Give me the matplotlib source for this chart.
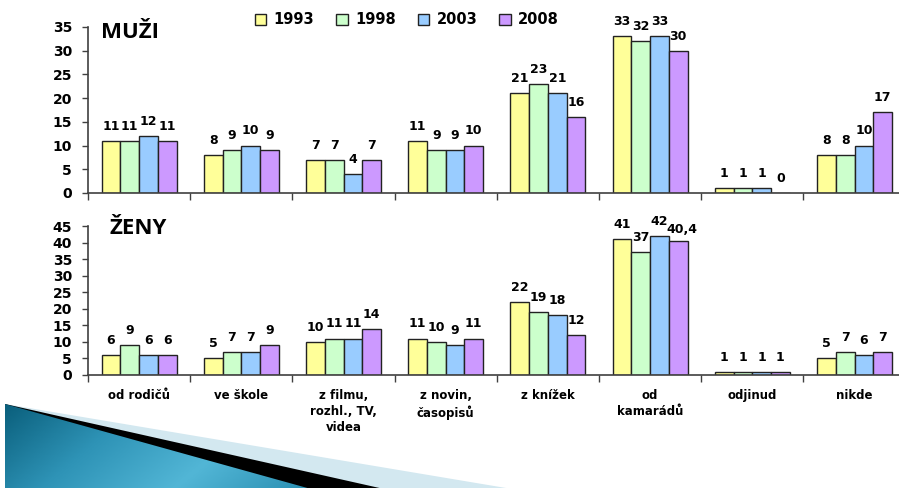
import matplotlib
matplotlib.use("Agg")
import matplotlib.pyplot as plt
from matplotlib.patches import Patch, Polygon
from matplotlib.colors import LinearSegmentedColormap
import numpy as np

plt.rcParams['font.family'] = ['DejaVu Sans']
plt.rcParams['font.weight'] = 'bold'

categories = ["od rodičů", "ve škole", "z filmu,\nrozhl., TV,\nvidea", "z novin,\nčasopisů",
              "z knížek", "od\nkamarádů", "odjinud", "nikde"]
years = ["1993", "1998", "2003", "2008"]
colors = ["#FFFF99", "#CCFFCC", "#99CCFF", "#CC99FF"]

muzi_1993 = [11, 8, 7, 11, 21, 33, 1, 8]
muzi_1998 = [11, 9, 7, 9, 23, 32, 1, 8]
muzi_2003 = [12, 10, 4, 9, 21, 33, 1, 10]
muzi_2008 = [11, 9, 7, 10, 16, 30, 0, 17]

zeny_1993 = [6, 5, 10, 11, 22, 41, 1, 5]
zeny_1998 = [9, 7, 11, 10, 19, 37, 1, 7]
zeny_2003 = [6, 7, 11, 9, 18, 42, 1, 6]
zeny_2008 = [6, 9, 14, 11, 12, 40.4, 1, 7]

W, H = 899, 488
fig = plt.figure(figsize=(W / 100, H / 100), dpi=100)


def px_axes(left, top, bottom, right):
    return fig.add_axes([left / W, 1 - bottom / H, (right - left) / W, (bottom - top) / H])


def fmt(v):
    if float(v).is_integer():
        return str(int(v))
    return str(v).replace(".", ",")


def draw_panel(ax, series, ymax, title, title_xy, show_labels):
    x = np.arange(len(categories))
    w = 0.183
    for k, vals in enumerate(series):
        pos = x + (k - 1.5) * w
        ax.bar(pos, vals, w, color=colors[k], edgecolor="#222222", linewidth=1, zorder=2)
        for p, v in zip(pos, vals):
            # the decimal label sits a little lower and to the right, as in the source
            off = (2.5, 8.5) if not float(v).is_integer() else (0, 10.5)
            ax.annotate(fmt(v), (p, v), xytext=off, textcoords="offset points",
                        ha="center", va="center", fontsize=9, fontweight="bold")
    ax.set_xlim(-0.5, 7.5)
    ax.set_ylim(0, ymax)
    ax.set_yticks(np.arange(0, ymax + 1, 5))
    ax.tick_params(axis="y", length=4.5, width=1, color="#404040", labelsize=10, pad=7)
    ax.set_xticks(x)
    ax.set_xticks(np.arange(-0.5, 8, 1), minor=True)
    ax.tick_params(axis="x", which="major", length=0, labelsize=8.5, pad=10)
    ax.tick_params(axis="x", which="minor", length=5, width=1, color="#404040")
    if show_labels:
        ax.set_xticklabels(categories, linespacing=1.3)
    else:
        ax.set_xticklabels([])
    for lab in ax.get_yticklabels() + ax.get_xticklabels():
        lab.set_fontweight("bold")
    for s in ["top", "right"]:
        ax.spines[s].set_visible(False)
    for s in ["left", "bottom"]:
        ax.spines[s].set_color("#404040")
        ax.spines[s].set_linewidth(1.2)
    ax.text(title_xy[0], title_xy[1], title, transform=fig.transFigure, fontsize=16,
            fontweight="bold", family=["Open Sans", "DejaVu Sans"], ha="left", va="center")


ax1 = px_axes(88, 27, 193, 88 + 8 * 102.2)
draw_panel(ax1, [muzi_1993, muzi_1998, muzi_2003, muzi_2008], 35, "MUŽI",
           (101 / W, 1 - 33 / H), False)

ax2 = px_axes(88, 226, 375, 88 + 8 * 102.2)
draw_panel(ax2, [zeny_1993, zeny_1998, zeny_2003, zeny_2008], 45, "ŽENY",
           (109 / W, 1 - 228 / H), True)

handles = [Patch(facecolor=c, edgecolor="#222222", linewidth=1) for c in colors]
fig.legend(handles, years, loc="center", bbox_to_anchor=(407 / W, 1 - 20 / H), ncol=4,
           frameon=False, handlelength=0.8, handleheight=0.8, handletextpad=0.5,
           columnspacing=1.5, prop={"weight": "bold", "size": 10.5})

# decorative slide arrow at bottom left
deco = fig.add_axes([0, 0, 1, 1], zorder=-1)
deco.set_xlim(0, W)
deco.set_ylim(H, 0)
deco.axis("off")
deco.add_patch(Polygon([(5, 404), (512, 489), (5, 489)], closed=True,
                       facecolor="#D3E8F0", edgecolor="none", zorder=1))
deco.add_patch(Polygon([(5, 404), (384, 489), (5, 489)], closed=True,
                       facecolor="#000000", edgecolor="none", zorder=2))
teal = Polygon([(5, 404), (311, 489), (5, 489)], closed=True, facecolor="none", edgecolor="none")
deco.add_patch(teal)
cmap = LinearSegmentedColormap.from_list("teal", ["#0A5F7C", "#2E93B6", "#52B6D6", "#2A8FB2"])
gx = np.linspace(0, 1, 200)
gy = np.linspace(0, 1, 50)
GX, GY = np.meshgrid(gx, gy)
grad = 0.75 * GX + 0.25 * GY
img = deco.imshow(grad, cmap=cmap, extent=(5, 311, 489, 404), aspect="auto", zorder=3)
img.set_clip_path(teal)
deco.set_xlim(0, W)
deco.set_ylim(H, 0)

fig.savefig("out.png", dpi=100)
